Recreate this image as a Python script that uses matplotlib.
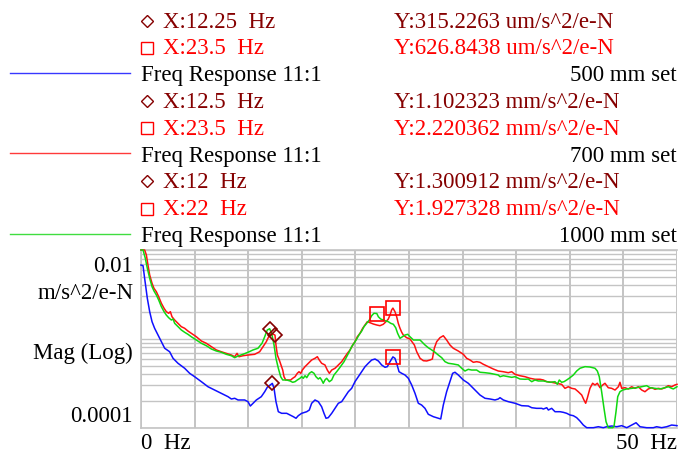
import numpy as np
import matplotlib
matplotlib.use("Agg")
import matplotlib.pyplot as plt
from matplotlib.lines import Line2D

# ---------------- data ----------------
# frequency [Hz] and log10 of magnitude [m/s^2/e-N]
freq_500 = [0.0, 0.19, 0.34, 0.59, 0.81, 1.03, 1.27, 1.59, 1.90, 2.21, 2.67, 2.99, 3.45, 4.07, 4.54, 5.00,
            5.63, 6.25, 6.87, 7.49, 8.12, 8.43, 8.74, 9.05, 9.67, 9.98, 10.2, 10.45, 10.76, 11.22, 11.54,
            11.78, 12.0, 12.25, 12.41, 12.59, 12.81, 13.12, 13.59, 13.9, 14.21, 14.46, 14.67, 14.99, 15.46,
            15.70, 15.92, 16.23, 16.54, 16.85, 17.07, 17.26, 17.47, 17.79, 18.1, 18.41, 18.72, 19.03, 19.34,
            19.65, 19.96, 20.27, 20.59, 20.9, 21.2, 21.52, 21.83, 22.14, 22.45, 22.76, 22.98, 23.23, 23.5,
            23.69, 23.85, 24.07, 24.32, 24.63, 24.94, 25.25, 25.56, 25.87, 26.18, 26.49, 26.8, 27.27, 27.73,
            27.96, 28.2, 28.51, 28.82, 29.07, 29.29, 29.6, 30.07, 30.53, 31.0, 31.31, 31.62, 32.09, 32.56,
            33.02, 33.33, 33.49, 33.8, 34.26, 34.89, 35.51, 36.13, 36.45, 36.91, 37.38, 37.53, 37.85, 38.0,
            38.31, 38.62, 39.09, 39.4, 39.71, 40.02, 40.33, 40.64, 40.95, 41.26, 41.58, 42.2, 42.66, 43.13,
            43.44, 43.91, 44.38, 44.84, 45.31, 45.77, 46.18, 46.55, 47.17, 47.79, 48.1, 48.57, 49.04, 49.5, 50.0]
logmag_500 = [-2.169, -2.177, -2.319, -2.544, -2.694, -2.807, -2.881, -2.957, -3.032, -3.106, -3.145, -3.219,
              -3.275, -3.331, -3.388, -3.426, -3.482, -3.539, -3.576, -3.613, -3.651, -3.677, -3.669, -3.688,
              -3.688, -3.707, -3.756, -3.725, -3.688, -3.651, -3.595, -3.545, -3.525, -3.501, -3.557, -3.707,
              -3.820, -3.838, -3.838, -3.857, -3.876, -3.894, -3.865, -3.838, -3.820, -3.801, -3.725, -3.688,
              -3.707, -3.764, -3.838, -3.894, -3.887, -3.838, -3.782, -3.725, -3.707, -3.651, -3.595, -3.557,
              -3.482, -3.426, -3.370, -3.313, -3.275, -3.238, -3.227, -3.249, -3.294, -3.320, -3.313, -3.257,
              -3.203, -3.219, -3.275, -3.370, -3.388, -3.407, -3.444, -3.519, -3.613, -3.725, -3.745, -3.782,
              -3.849, -3.876, -3.894, -3.902, -3.745, -3.595, -3.482, -3.388, -3.376, -3.407, -3.463, -3.500,
              -3.557, -3.595, -3.632, -3.669, -3.677, -3.688, -3.677, -3.662, -3.688, -3.707, -3.725, -3.752,
              -3.756, -3.775, -3.782, -3.782, -3.790, -3.775, -3.801, -3.782, -3.820, -3.820, -3.827, -3.838,
              -3.857, -3.865, -3.887, -3.925, -3.970, -4.0, -4.0, -3.989, -4.0, -3.989, -3.981, -3.989, -3.977,
              -4.0, -3.970, -3.944, -3.989, -4.0, -4.0, -3.989, -4.0, -3.989, -3.970, -3.977]

freq_700 = [0.0, 0.34, 0.50, 0.65, 0.81, 1.03, 1.21, 1.43, 1.65, 1.90, 2.15, 2.36, 2.58, 2.74, 2.89, 3.14,
            3.45, 3.76, 4.07, 4.38, 4.69, 5.16, 5.63, 6.09, 6.56, 7.03, 7.49, 7.96, 8.43, 8.74, 8.96, 9.14,
            9.51, 9.98, 10.6, 11.07, 11.38, 11.69, 11.91, 12.1, 12.25, 12.5, 12.59, 12.72, 12.9, 13.06, 13.22,
            13.34, 13.5, 13.74, 13.96, 14.15, 14.37, 14.58, 14.74, 14.9, 15.05, 15.3, 15.61, 15.92, 16.23,
            16.45, 16.63, 16.85, 17.16, 17.38, 17.57, 17.79, 18.1, 18.41, 18.72, 19.03, 19.25, 19.5, 19.75,
            19.96, 20.18, 20.43, 20.68, 20.9, 21.11, 21.36, 21.67, 21.99, 22.29, 22.6, 22.85, 23.07, 23.23,
            23.38, 23.5, 23.69, 23.85, 24.0, 24.16, 24.32, 24.47, 24.78, 25.09, 25.5, 25.72, 26.03, 26.34,
            26.65, 26.96, 27.18, 27.36, 27.58, 27.89, 28.2, 28.51, 28.82, 29.13, 29.6, 30.07, 30.38, 30.69,
            31.0, 31.31, 31.62, 31.93, 32.4, 32.86, 33.33, 33.8, 34.26, 34.58, 34.89, 35.35, 35.82, 36.29,
            36.75, 37.22, 37.53, 37.85, 38.31, 38.78, 39.24, 39.55, 39.86, 40.18, 40.49, 40.79, 41.11, 41.32,
            41.48, 41.63, 41.88, 42.13, 42.35, 42.57, 42.82, 43.07, 43.28, 43.59, 43.91, 44.22, 44.53, 44.68,
            44.84, 45.15, 45.46, 45.77, 46.08, 46.39, 46.71, 47.01, 47.32, 47.64, 47.95, 48.26, 48.57, 48.88,
            49.19, 49.5, 49.81, 50.0]
logmag_700 = [-2.0, -2.0, -2.056, -2.169, -2.281, -2.375, -2.431, -2.469, -2.526, -2.600, -2.656, -2.694,
              -2.712, -2.694, -2.751, -2.788, -2.825, -2.863, -2.881, -2.912, -2.938, -2.976, -3.024, -3.050,
              -3.088, -3.125, -3.145, -3.163, -3.182, -3.201, -3.163, -3.201, -3.190, -3.182, -3.174, -3.145,
              -3.088, -3.032, -2.976, -2.950, -2.942, -2.958, -3.069, -3.182, -3.238, -3.294, -3.351, -3.426,
              -3.463, -3.463, -3.463, -3.444, -3.426, -3.388, -3.370, -3.388, -3.351, -3.313, -3.275, -3.238,
              -3.219, -3.201, -3.238, -3.275, -3.294, -3.351, -3.388, -3.351, -3.331, -3.294, -3.257, -3.201,
              -3.163, -3.125, -3.069, -3.032, -2.976, -2.938, -2.881, -2.844, -2.807, -2.818, -2.833, -2.844,
              -2.852, -2.836, -2.807, -2.777, -2.732, -2.675, -2.654, -2.694, -2.751, -2.825, -2.881, -2.926,
              -2.957, -2.987, -3.002, -3.069, -3.145, -3.219, -3.246, -3.249, -3.238, -3.227, -3.106, -3.032,
              -2.987, -2.965, -3.013, -3.069, -3.106, -3.137, -3.174, -3.219, -3.238, -3.264, -3.257, -3.264,
              -3.286, -3.313, -3.339, -3.362, -3.370, -3.381, -3.370, -3.399, -3.415, -3.426, -3.444, -3.455,
              -3.455, -3.463, -3.482, -3.489, -3.500, -3.512, -3.557, -3.539, -3.557, -3.564, -3.595, -3.632,
              -3.688, -3.725, -3.669, -3.557, -3.500, -3.519, -3.500, -3.550, -3.519, -3.500, -3.550, -3.557,
              -3.576, -3.539, -3.489, -3.557, -3.550, -3.564, -3.539, -3.557, -3.539, -3.576, -3.595, -3.564,
              -3.550, -3.568, -3.557, -3.564, -3.550, -3.527, -3.539, -3.519, -3.512]

freq_1000 = [0.0, 0.19, 0.40, 0.59, 0.81, 1.03, 1.21, 1.43, 1.65, 1.90, 2.15, 2.36, 2.58, 2.83, 2.99, 3.14,
             3.45, 3.76, 4.07, 4.38, 4.69, 5.16, 5.63, 6.09, 6.56, 7.03, 7.49, 7.96, 8.43, 8.74, 9.05, 9.51,
             9.98, 10.45, 10.91, 11.29, 11.54, 11.78, 12.0, 12.19, 12.41, 12.59, 12.81, 13.03, 13.22, 13.59,
             13.9, 14.15, 14.37, 14.58, 14.83, 14.99, 15.14, 15.3, 15.46, 15.7, 15.92, 16.14, 16.32, 16.54,
             16.7, 16.85, 17.0, 17.16, 17.32, 17.57, 17.79, 18.0, 18.25, 18.5, 18.72, 18.94, 19.19, 19.43,
             19.65, 19.87, 20.12, 20.37, 20.59, 20.8, 21.05, 21.3, 21.52, 21.73, 22.0, 22.14, 22.36, 22.6,
             22.85, 23.07, 23.29, 23.54, 23.76, 23.94, 24.16, 24.38, 24.63, 24.88, 25.09, 25.41, 25.72, 26.03,
             26.24, 26.49, 26.8, 27.12, 27.43, 27.73, 28.05, 28.36, 28.67, 29.13, 29.6, 29.91, 30.22, 30.53,
             30.85, 31.31, 31.62, 32.09, 32.56, 33.02, 33.33, 33.49, 33.8, 34.26, 34.58, 34.89, 35.35, 35.82,
             36.13, 36.45, 36.75, 37.06, 37.38, 37.53, 37.85, 38.15, 38.62, 38.84, 39.02, 39.24, 39.46, 39.71,
             40.02, 40.33, 40.64, 40.95, 41.42, 41.88, 42.35, 42.57, 42.75, 42.97, 43.19, 43.38, 43.59, 44.0,
             44.12, 44.31, 44.47, 44.68, 44.93, 45.31, 45.77, 46.24, 46.71, 47.17, 47.48, 47.95, 48.41, 48.88,
             49.19, 49.5, 49.66, 50.0]
logmag_1000 = [-2.0, -2.0, -2.093, -2.206, -2.319, -2.413, -2.461, -2.506, -2.563, -2.638, -2.694, -2.732,
               -2.762, -2.788, -2.777, -2.825, -2.863, -2.900, -2.926, -2.949, -2.976, -3.013, -3.050, -3.077,
               -3.114, -3.137, -3.151, -3.174, -3.190, -3.212, -3.193, -3.174, -3.151, -3.125, -3.106, -3.050,
               -2.976, -2.900, -2.886, -2.938, -3.069, -3.219, -3.331, -3.426, -3.463, -3.463, -3.474, -3.489,
               -3.482, -3.463, -3.444, -3.426, -3.444, -3.415, -3.437, -3.388, -3.370, -3.388, -3.426, -3.452,
               -3.437, -3.463, -3.500, -3.463, -3.444, -3.482, -3.463, -3.407, -3.370, -3.331, -3.294, -3.257,
               -3.201, -3.145, -3.088, -3.050, -3.002, -2.949, -2.912, -2.863, -2.825, -2.788, -2.739, -2.712,
               -2.715, -2.751, -2.777, -2.788, -2.799, -2.807, -2.825, -2.836, -2.875, -2.938, -2.994, -2.976,
               -2.957, -2.949, -2.976, -3.013, -3.013, -3.013, -3.039, -3.069, -3.100, -3.125, -3.151, -3.182,
               -3.212, -3.257, -3.275, -3.283, -3.294, -3.331, -3.362, -3.343, -3.351, -3.351, -3.376, -3.381,
               -3.388, -3.399, -3.407, -3.426, -3.415, -3.426, -3.433, -3.426, -3.452, -3.455, -3.452, -3.482,
               -3.463, -3.474, -3.474, -3.474, -3.482, -3.489, -3.482, -3.512, -3.463, -3.489, -3.482, -3.463,
               -3.437, -3.407, -3.362, -3.331, -3.313, -3.317, -3.331, -3.362, -3.426, -3.595, -3.782, -3.932,
               -4.0, -4.0, -3.989, -3.820, -3.651, -3.595, -3.576, -3.564, -3.557, -3.550, -3.539, -3.527,
               -3.550, -3.557, -3.564, -3.550, -3.539, -3.557, -3.564, -3.539]

# marker read-outs (Hz, m/s^2/e-N)
series_names = ["500 mm set", "700 mm set", "1000 mm set"]
diamond_x = [12.25, 12.5, 12.0]
diamond_y = [315.2263e-6, 1.102323e-3, 1.300912e-3]
square_x = [23.5, 23.5, 22.0]
square_y = [626.8438e-6, 2.220362e-3, 1.927328e-3]
diamond_txt = [("X:12.25  Hz", "Y:315.2263 um/s^2/e-N"),
               ("X:12.5  Hz", "Y:1.102323 mm/s^2/e-N"),
               ("X:12  Hz", "Y:1.300912 mm/s^2/e-N")]
square_txt = [("X:23.5  Hz", "Y:626.8438 um/s^2/e-N"),
              ("X:23.5  Hz", "Y:2.220362 mm/s^2/e-N"),
              ("X:22  Hz", "Y:1.927328 mm/s^2/e-N")]

# ---------------- figure ----------------
W, H = 678, 455
fig = plt.figure(figsize=(W / 100, H / 100), dpi=100)
serif = ["Liberation Serif", "DejaVu Serif"]
FS = 16.5


def fx(px):
    return px / W


def fy(py):
    return 1 - py / H


ax_l, ax_r, ax_t, ax_b = 141, 677, 250, 427.7
ax = fig.add_axes([fx(ax_l), fy(ax_b), (ax_r - ax_l) / W, (ax_b - ax_t) / H])
ax.set_yscale("log")
ax.set_xlim(0, 50)
ax.set_ylim(1e-4, 1e-2)

grid_c = "#c4c4c4"
ax.set_xticks(np.arange(0, 51, 5))
ax.xaxis.grid(True, color=grid_c, lw=1.4)
ax.yaxis.grid(True, which="both", color=grid_c, lw=1.0)
ax.tick_params(which="both", length=0, labelbottom=False, labelleft=False)
for side in ["left", "bottom", "top"]:
    ax.spines[side].set_color(grid_c)
    ax.spines[side].set_linewidth(1.2)
ax.spines["right"].set_visible(False)
ax.set_axisbelow(True)

colors = ["#1010ff", "#ff1010", "#10d810"]
data = [(freq_500, logmag_500), (freq_700, logmag_700), (freq_1000, logmag_1000)]
for (f, lm), c in zip(data, colors):
    ax.plot(f, 10 ** np.asarray(lm), color=c, lw=1.1, clip_on=False, zorder=3)

maroon = "#850000"
red = "#ff0000"
ax.plot(diamond_x, diamond_y, linestyle="none", marker="D", ms=7.5, mfc="none",
        mec=maroon, mew=1.2, zorder=4, clip_on=False)
ax.plot(square_x, square_y, linestyle="none", marker="s", ms=9.5, mfc="none",
        mec=red, mew=1.2, zorder=4, clip_on=False)

# ---------------- header / legend block ----------------
row0 = 27.5
dy = 26.8
legend_colors = ["#3838ff", "#ff3a3a", "#40dd40"]
for i in range(3):
    b_d = row0 + dy * (3 * i)
    b_s = row0 + dy * (3 * i + 1)
    b_f = row0 + dy * (3 * i + 2)
    # diamond row
    fig.add_artist(Line2D([fx(146.7)], [fy(b_d - 7)], marker="D", ms=6.6, mfc="none",
                          mec=maroon, mew=1.0, transform=fig.transFigure))
    fig.text(fx(163), fy(b_d), diamond_txt[i][0], color=maroon, fontsize=FS,
             family=serif, va="baseline", ha="left")
    fig.text(fx(393.5), fy(b_d), diamond_txt[i][1], color=maroon, fontsize=FS,
             family=serif, va="baseline", ha="left")
    # square row
    fig.add_artist(Line2D([fx(147)], [fy(b_s - 6.5)], marker="s", ms=9.0, mfc="none",
                          mec=red, mew=1.0, transform=fig.transFigure))
    fig.text(fx(163), fy(b_s), square_txt[i][0], color=red, fontsize=FS,
             family=serif, va="baseline", ha="left")
    fig.text(fx(393.5), fy(b_s), square_txt[i][1], color=red, fontsize=FS,
             family=serif, va="baseline", ha="left")
    # series row
    ly = b_f - 8.3
    fig.add_artist(Line2D([fx(9.5), fx(129.7)], [fy(ly), fy(ly)], color=legend_colors[i],
                          lw=1.0, transform=fig.transFigure))
    fig.text(fx(140.7), fy(b_f), "Freq Response 11:1", color="black", fontsize=FS,
             family=serif, va="baseline", ha="left")
    fig.text(fx(676.5), fy(b_f), series_names[i], color="black", fontsize=FS,
             family=serif, va="baseline", ha="right")

# ---------------- axis annotations ----------------
fig.text(fx(132.5), fy(272.4), "0.01", fontsize=FS, family=serif, ha="right", va="baseline")
fig.text(fx(133.3), fy(299.3), "m/s^2/e-N", fontsize=FS, family=serif, ha="right", va="baseline")
fig.text(fx(132.7), fy(359.3), "Mag (Log)", fontsize=FS, family=serif, ha="right", va="baseline")
fig.text(fx(132.3), fy(422.3), "0.0001", fontsize=FS, family=serif, ha="right", va="baseline")
fig.text(fx(141), fy(449), "0  Hz", fontsize=FS, family=serif, ha="left", va="baseline")
fig.text(fx(676.5), fy(449), "50  Hz", fontsize=FS, family=serif, ha="right", va="baseline")

fig.savefig("out.png", dpi=100)
